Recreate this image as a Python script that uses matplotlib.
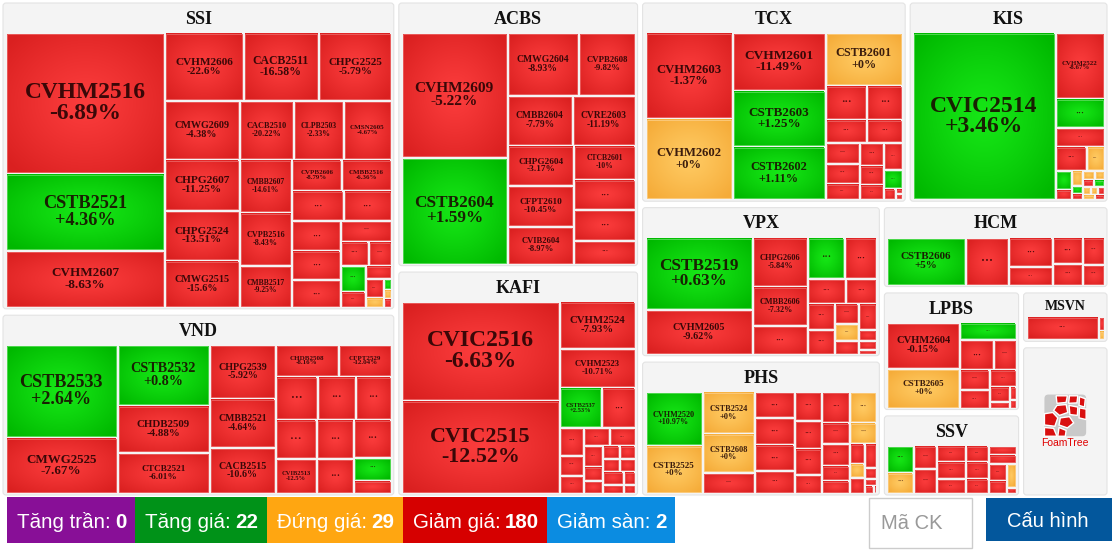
import numpy as np
import matplotlib
matplotlib.use("Agg")
import matplotlib.pyplot as plt
import matplotlib.colors as mcolors
from matplotlib.patches import Rectangle, FancyBboxPatch, Polygon

# ô chứng quyền: (mã, % thay đổi, giá trị GD) ; mã None = ô "..." chỉ biết xu hướng
SSI = [("CVHM2516", -6.89, 217), ("CSTB2521", 4.36, 119), ("CVHM2607", -8.63, 87),
       ("CVHM2606", -22.6, 52), ("CACB2511", -16.58, 50), ("CHPG2525", -5.79, 48),
       ("CMWG2609", -4.38, 42), ("CACB2510", -20.22, 31), ("CLPB2503", -2.33, 28),
       ("CMSN2605", -4.67, 27), ("CHPG2607", -11.25, 37), ("CHPG2524", -13.51, 36),
       ("CMWG2515", -15.6, 34), ("CMBB2607", -14.61, 27), ("CVPB2516", -8.43, 27),
       ("CMBB2517", -9.25, 21), ("CVPB2606", -8.79, 15), ("CMBB2516", -6.36, 15),
       (None, "giam", 15), (None, "giam", 14), (None, "giam", 14), (None, "giam", 14),
       (None, "giam", 13), (None, "giam", 10), (None, "giam", 6.5), (None, "giam", 5.5),
       (None, "tang", 6), (None, "giam", 3.8), (None, "giam", 3.4), (None, "giam", 3.2),
       (None, "dung", 1.8), (None, "tang", 0.8), (None, "dung", 0.7), (None, "giam", 0.7)]
SSI_LAYOUT = ("h", ("v", 0, 1, 2),
              ("v", ("h", 3, 4, 5), ("h", 6, 7, 8, 9),
               ("h", ("v", 10, 11, 12), ("v", 13, 14, 15),
                ("v", ("h", 16, 17), ("h", 18, 19),
                 ("h", ("v", 20, 21, 22),
                  ("v", 23, ("h", 24, 25),
                   ("h", ("v", 26, 27), ("v", 28, ("h", ("v", 29, 30), ("v", 31, 32, 33))))))))))

VND = [("CSTB2533", 2.64, 99), ("CMWG2525", -7.67, 60), ("CSTB2532", 0.8, 54),
       ("CHDB2509", -4.88, 42), ("CTCB2521", -6.01, 36), ("CHPG2539", -5.92, 34),
       ("CMBB2521", -4.64, 31), ("CACB2515", -10.6, 29), ("CHDB2508", -8.16, 19),
       ("CFPT2529", -12.04, 16), (None, "giam", 17.2), (None, "giam", 16),
       (None, "giam", 14.7), (None, "giam", 15.2), ("CVIB2513", -12.5, 13.6),
       (None, "giam", 14.1), (None, "giam", 12.6), (None, "giam", 13.7),
       (None, "tang", 8.1), (None, "giam", 4.8)]
VND_LAYOUT = ("h", ("v", 0, 1), ("v", 2, 3, 4), ("v", 5, 6, 7),
              ("v", ("h", 8, 9), ("h", 10, 11, 12),
               ("h", ("v", 13, 14), ("v", 15, 16), ("v", 17, 18, 19))))

ACBS = [("CVHM2609", -5.22, 127), ("CSTB2604", 1.59, 109), ("CMWG2604", -8.93, 43),
        ("CVPB2608", -9.82, 34), ("CMBB2604", -7.79, 31), ("CVRE2603", -11.19, 30),
        ("CHPG2604", -3.17, 26), ("CFPT2610", -10.45, 26), ("CVIB2604", -8.97, 24),
        ("CTCB2601", -10, 20), (None, "giam", 18), (None, "giam", 18), (None, "giam", 14)]
ACBS_LAYOUT = ("h", ("v", 0, 1),
               ("v", ("h", 2, 3), ("h", 4, 5), ("h", ("v", 6, 7, 8), ("v", 9, 10, 11, 12))))

KAFI = [("CVIC2516", -6.63, 150), ("CVIC2515", -12.52, 141), ("CVHM2524", -7.93, 34),
        ("CVHM2523", -10.71, 28), ("CSTB2537", 2.53, 16.4), (None, "giam", 12.9),
        (None, "giam", 6.4), (None, "giam", 4.6), (None, "giam", 4.1),
        (None, "giam", 4.3), (None, "giam", 4.4),
        (None, "giam", 3.8), (None, "giam", 2.7), (None, "giam", 2.3),
        (None, "giam", 2.1), (None, "giam", 2.0), (None, "giam", 2.0), (None, "giam", 1.8),
        (None, "giam", 2.7), (None, "giam", 1.5), (None, "giam", 1.7), (None, "giam", 1.0)]
KAFI_LAYOUT = ("h", ("v", 0, 1),
               ("v", 2, 3, ("h", 4, 5),
                ("h", ("v", 6, 7, 8),
                 ("v", ("h", 9, 10),
                  ("h", ("v", 11, 12, 13),
                   ("v", ("h", 14, 15), ("h", 16, 17), ("h", 18, 19), ("h", 20, 21)))))))

TCX = [("CVHM2603", -1.37, 72), ("CVHM2602", 0, 68), ("CVHM2601", -11.49, 51),
       ("CSTB2603", 1.25, 50), ("CSTB2602", 1.11, 47), ("CSTB2601", 0, 39),
       (None, "giam", 13.9), (None, "giam", 11.9), (None, "giam", 9.2), (None, "giam", 7.9),
       (None, "giam", 6.7), (None, "giam", 6.4), (None, "giam", 5.4),
       (None, "giam", 5.3), (None, "giam", 4.6), (None, "giam", 3.6),
       (None, "giam", 4.8), (None, "tang", 3.3), (None, "giam", 1.3),
       (None, "giam", 0.4), (None, "giam", 0.4)]
TCX_LAYOUT = ("h", ("v", 0, 1), ("v", 2, 3, 4),
              ("v", 5, ("h", 6, 7), ("h", 8, 9),
               ("h", ("v", 10, 11, 12), ("v", 13, 14, 15), ("v", 16, 17, ("h", 18, ("v", 19, 20))))))

KIS = [("CVIC2514", 3.46, 227), ("CVHM2522", -8.67, 31), (None, "tang", 13.7),
       (None, "giam", 8.8), (None, "giam", 7.1), (None, "dung", 4.2),
       (None, "tang", 2.9), (None, "giam", 1.6),
       (None, "dung", 1.6), (None, "tang", 0.8), (None, "giam", 0.7),
       (None, "dung", 1.0), (None, "dung", 0.9), (None, "giam", 0.8), (None, "tang", 0.8),
       (None, "dung", 0.6), (None, "dung", 0.5), (None, "giam", 0.5),
       (None, "dung", 0.6), (None, "giam", 0.5)]
KIS_LAYOUT = ("h", 0, ("v", 1, 2, 3, ("h", 4, 5),
                       ("h", ("v", 6, 7), ("v", 8, 9, 10),
                        ("v", ("h", 11, 12), ("h", 13, 14), ("h", 15, 16, 17), ("h", 18, 19)))))

VPX = [("CSTB2519", 0.63, 74), ("CVHM2605", -9.62, 45), ("CHPG2606", -5.84, 26),
       ("CMBB2606", -7.32, 20.5), (None, "giam", 15),
       (None, "tang", 14.4), (None, "giam", 12.9), (None, "giam", 8.7), (None, "giam", 7.4),
       (None, "giam", 6.8), (None, "giam", 6.3),
       (None, "giam", 4.6), (None, "dung", 3.7), (None, "giam", 3.1),
       (None, "giam", 4.6), (None, "giam", 1.9), (None, "giam", 1.5), (None, "giam", 0.8)]
VPX_LAYOUT = ("h", ("v", 0, 1), ("v", 2, 3, 4),
              ("v", ("h", 5, 6), ("h", 7, 8),
               ("h", ("v", 9, 10), ("v", 11, 12, 13), ("v", 14, 15, 16, 17))))

PHS = [("CVHM2520", 10.97, 29), ("CSTB2525", 0, 26), ("CSTB2524", 0, 21),
       ("CSTB2608", 0, 19.4), (None, "giam", 10.2),
       (None, "giam", 9.5), (None, "giam", 9.9), (None, "giam", 9.9), (None, "giam", 8.4),
       (None, "giam", 7.6), (None, "giam", 7.3), (None, "giam", 7.0), (None, "giam", 4.9),
       (None, "giam", 8.1), (None, "dung", 7.8), (None, "giam", 5.6), (None, "dung", 5.4),
       (None, "giam", 5.7), (None, "giam", 3.9), (None, "giam", 3.4),
       (None, "giam", 2.8), (None, "dung", 2.0), (None, "giam", 2.2),
       (None, "giam", 2.9), (None, "giam", 1.3), (None, "giam", 0.8),
       (None, "giam", 0.7), (None, "giam", 0.3)]
PHS_LAYOUT = ("h", ("v", 0, 1), ("v", 2, 3, 4), ("v", 5, 6, 7, 8), ("v", 9, 10, 11, 12),
              ("v", ("h", 13, 14), ("h", 15, 16),
               ("h", ("v", 17, 18, 19), ("v", 20, 21, 22), ("v", 23, 24, 25, ("h", 26, 27)))))

HCM = [("CSTB2606", 5, 34.3), (None, "giam", 18.9), (None, "giam", 11.6), (None, "giam", 7.3),
       (None, "giam", 7.2), (None, "giam", 6.0), (None, "giam", 5.5), (None, "giam", 4.2)]
HCM_LAYOUT = ("h", 0, 1, ("v", 2, 3), ("v", 4, 5), ("v", 6, 7))

LPBS = [("CVHM2604", -0.15, 31), ("CSTB2605", 0, 27), (None, "tang", 9),
        (None, "giam", 9.2), (None, "giam", 6.4), (None, "giam", 5.6), (None, "giam", 5.0),
        (None, "giam", 4.2), (None, "giam", 2.8), (None, "giam", 1.2),
        (None, "giam", 0.8), (None, "giam", 0.5)]
LPBS_LAYOUT = ("h", ("v", 0, 1),
               ("v", 2, ("h", 3, 4), ("h", ("v", 5, 6), ("v", 7, ("h", ("v", 8, 9), ("v", 10, 11))))))

MSVN = [(None, "giam", 14), (None, "giam", 0.7), (None, "dung", 0.5)]
MSVN_LAYOUT = ("h", 0, ("v", 1, 2))

SSV = [(None, "tang", 6.5), (None, "dung", 5.2), (None, "giam", 4.8), (None, "giam", 5.1),
       (None, "giam", 4.2), (None, "giam", 4.5), (None, "giam", 3.9),
       (None, "giam", 3.3), (None, "giam", 3.5), (None, "giam", 3.1),
       (None, "giam", 2.2), (None, "giam", 2.4), (None, "giam", 2.7), (None, "giam", 2.2),
       (None, "dung", 2.0), (None, "giam", 0.5)]
SSV_LAYOUT = ("h", ("v", 0, 1), ("v", 2, 3), ("v", 4, 5, 6), ("v", 7, 8, 9),
              ("v", 10, 11, ("h", ("v", 12, 13), ("v", 14, 15))))

LEGEND_LABELS = ["Tăng trần", "Tăng giá", "Đứng giá", "Giảm giá", "Giảm sàn"]
LEGEND_COUNTS = [0, 22, 29, 180, 2]
LEGEND_COLORS = ["#880f97", "#009218", "#ffa611", "#d60000", "#0b8ce1"]

GROUPS = {"SSI": (SSI, SSI_LAYOUT), "VND": (VND, VND_LAYOUT), "ACBS": (ACBS, ACBS_LAYOUT),
          "KAFI": (KAFI, KAFI_LAYOUT), "TCX": (TCX, TCX_LAYOUT), "KIS": (KIS, KIS_LAYOUT),
          "VPX": (VPX, VPX_LAYOUT), "PHS": (PHS, PHS_LAYOUT), "HCM": (HCM, HCM_LAYOUT),
          "LPBS": (LPBS, LPBS_LAYOUT), "MSVN": (MSVN, MSVN_LAYOUT), "SSV": (SSV, SSV_LAYOUT)}

# bố cục nhóm (cây chia ngang/dọc), ô logo FoamTree không có dữ liệu
TOP = ("h", ("v", "SSI", "VND"), ("v", "ACBS", "KAFI"),
       ("v", ("h", "TCX", "KIS"),
        ("h", ("v", "VPX", "PHS"),
         ("v", "HCM", ("h", ("v", "LPBS", "SSV"), ("v", "MSVN", "LOGO"))))))
LOGO_W = 121

SERIF = "Liberation Serif"
SANS = "Liberation Sans"
MX, MY, PAD, HEAD, BOT, GAP = 2.5, 3.2, 2.5, 29.5, 1.5, 1.5
HEAD_SMALL = 23.5
ROOT = (0.5, -0.2, 1109.5, 498.2)

COLORS = {"tang": ("#16e616", "#00b800"), "dung": ("#ffca62", "#f5ab38"),
          "giam": ("#fb3c3c", "#da2020")}
EDGE = {"tang": "#4fd84f", "dung": "#fbc878", "giam": "#ea5a5a"}

yy, xx = np.mgrid[-1:1:40j, -1:1:40j]
rad = np.clip(np.hypot(xx, yy) / 1.35, 0, 1) ** 1.2
IMG = {}
for k, (a, b) in COLORS.items():
    ca, cb = np.array(mcolors.to_rgb(a)), np.array(mcolors.to_rgb(b))
    IMG[k] = ca + (cb - ca) * rad[..., None]


def trend(v):
    if isinstance(v, str):
        return v
    return "tang" if v > 0 else ("dung" if v == 0 else "giam")


def wsum(node, cells):
    if isinstance(node, int):
        return cells[node][2]
    return sum(wsum(c, cells) for c in node[1:])


def slice_cells(node, cells, x0, y0, x1, y1, out):
    if isinstance(node, int):
        out.append((node, x0, y0, x1, y1))
        return
    kids = node[1:]
    ws = [wsum(c, cells) for c in kids]
    tot = sum(ws)
    pos = x0 if node[0] == "h" else y0
    for c, w in zip(kids, ws):
        if node[0] == "h":
            step = (x1 - x0) * w / tot
            slice_cells(c, cells, pos, y0, pos + step, y1, out)
        else:
            step = (y1 - y0) * w / tot
            slice_cells(c, cells, x0, pos, x1, pos + step, out)
        pos += step


GW = {}
def top_w(n):
    if isinstance(n, str):
        if n not in GW:
            GW[n] = LOGO_W if n == "LOGO" else sum(c[2] for c in GROUPS[n][0])
        return GW[n]
    return sum(top_w(c) for c in n[1:])


def prep(n):
    if isinstance(n, str):
        return n
    ws = [top_w(c) for c in n[1:]]
    return [n[0], [prep(c) for c in n[1:]], [w / sum(ws) for w in ws]]


def place(n, x0, y0, x1, y1, boxes):
    if isinstance(n, str):
        boxes[n] = (x0, y0, x1, y1)
        return
    kind, kids, sh = n
    pos = x0 if kind == "h" else y0
    span = (x1 - x0) if kind == "h" else (y1 - y0)
    for c, s in zip(kids, sh):
        if kind == "h":
            place(c, pos, y0, pos + s * span, y1, boxes)
        else:
            place(c, x0, pos, x1, pos + s * span, boxes)
        pos += s * span


def inner(name, box):
    x0, y0, x1, y1 = box
    if name == "LOGO":
        return x0 + MX, y0 + MY, x1 - MX, y1 - MY
    hd = HEAD_SMALL if name == "MSVN" else HEAD
    return x0 + MX + PAD, y0 + MY + hd, x1 - MX - PAD, y1 - MY - BOT


def relax(n, boxes):
    # chỉnh tỉ lệ chia để mật độ (diện tích / giá trị) đều giữa các nhóm
    if isinstance(n, str):
        a, b, c, d = inner(n, boxes[n])
        g = 0 if n == "LOGO" else 2 * GAP
        return max(c - a - g, 1.0) * max(d - b - g, 1.0), top_w(n)
    res = [relax(c, boxes) for c in n[1]]
    A = sum(r[0] for r in res)
    W = sum(r[1] for r in res)
    sh = [s * ((A / W) / (r[0] / r[1])) ** 0.5 for s, r in zip(n[2], res)]
    n[2] = [s / sum(sh) for s in sh]
    return A, W


tree = prep(TOP)
for _ in range(400):
    boxes = {}
    place(tree, *ROOT, boxes)
    relax(tree, boxes)
boxes = {}
place(tree, *ROOT, boxes)

fig = plt.figure(figsize=(11.12, 5.5), dpi=100)
fig.patch.set_facecolor("white")
ax = fig.add_axes([0, 0, 1, 1])
ax.set_xlim(0, 1112)
ax.set_ylim(550, 0)
ax.axis("off")
renderer = fig.canvas.get_renderer()


def draw_cell(cell, x0, y0, x1, y1):
    ma, pct, _ = cell
    x0, y0, x1, y1 = x0 + GAP, y0 + GAP, x1 - GAP, y1 - GAP
    w, h = x1 - x0, y1 - y0
    if w <= 0.6 or h <= 0.6:
        return
    key = trend(pct)
    ax.imshow(IMG[key], extent=(x0, x1, y1, y0), aspect="auto",
              interpolation="bilinear", zorder=2)
    ax.add_patch(Rectangle((x0, y0), w, h, fill=False, ec=EDGE[key], lw=0.7, zorder=3))
    cx, cy = (x0 + x1) / 2, (y0 + y1) / 2
    if ma is None:
        s = min(0.3 * w, 0.34 * h, 12)
        if s >= 4:
            ax.text(cx, cy, "···", ha="center", va="center", fontsize=s * 0.72,
                    family=SERIF, weight="bold", color="#2a0000", alpha=0.8, zorder=4)
        return
    t = ax.text(cx, cy, f"{ma}\n{pct:+g}%", ha="center", va="center",
                multialignment="center", fontsize=10, family=SERIF, weight="bold",
                linespacing=0.95, color="#1a0000", alpha=0.85, zorder=4)
    bb = t.get_window_extent(renderer)
    k = min(0.77 * w / bb.width, 0.45 * h / bb.height)
    t.set_fontsize(min(10 * k, 19))


def draw_logo(x0, y0, x1, y1):
    side = 0.5 * (x1 - x0)
    lx0 = (x0 + x1) / 2 - side / 2
    ly0 = (y0 + y1) / 2 - side / 2 - 6
    ax.add_patch(FancyBboxPatch((lx0, ly0), side, side, boxstyle="round,pad=0,rounding_size=4",
                                fc="#c9c9c9", ec="none", zorder=2))
    polys = [[(0.28, 0.03), (0.55, 0.03), (0.52, 0.19), (0.3, 0.21)],
             [(0.6, 0.03), (0.8, 0.03), (0.78, 0.2), (0.58, 0.21)],
             [(0.84, 0.05), (0.98, 0.1), (0.96, 0.3), (0.83, 0.26)],
             [(0.3, 0.26), (0.52, 0.24), (0.56, 0.43), (0.36, 0.5), (0.22, 0.38)],
             [(0.59, 0.26), (0.8, 0.3), (0.79, 0.5), (0.61, 0.48)],
             [(0.84, 0.32), (1.0, 0.35), (1.0, 0.6), (0.83, 0.56)],
             [(0.0, 0.46), (0.2, 0.43), (0.32, 0.56), (0.25, 0.76), (0.0, 0.73)],
             [(0.38, 0.56), (0.6, 0.53), (0.7, 0.68), (0.55, 0.8), (0.35, 0.73)],
             [(0.0, 0.79), (0.22, 0.81), (0.3, 1.0), (0.0, 1.0)],
             [(0.35, 0.79), (0.52, 0.86), (0.5, 1.0), (0.32, 1.0)]]
    for p in polys:
        ax.add_patch(Polygon([(lx0 + u * side, ly0 + v * side) for u, v in p],
                             closed=True, fc="#d90f0f", ec="white", lw=1.0, zorder=3))
    ax.text((x0 + x1) / 2, ly0 + side + 7, "FoamTree", ha="center", va="center",
            fontsize=7.5, family=SANS, color="#e00000", zorder=3)


for name, box in boxes.items():
    x0, y0, x1, y1 = box
    fx0, fy0, fx1, fy1 = x0 + MX, y0 + MY, x1 - MX, y1 - MY
    ax.add_patch(FancyBboxPatch((fx0, fy0), fx1 - fx0, fy1 - fy0,
                                boxstyle="round,pad=0,rounding_size=3",
                                fc="#f4f4f4", ec="#e3e3e3", lw=0.8, zorder=1))
    if name == "LOGO":
        draw_logo(fx0, fy0, fx1, fy1)
        continue
    hd = HEAD_SMALL if name == "MSVN" else HEAD
    ax.text((fx0 + fx1) / 2, fy0 + hd / 2 + 1.5, name, ha="center", va="center",
            fontsize=10 if name == "MSVN" else 13, family=SERIF, weight="bold",
            color="#111111", zorder=2)
    cells, lay = GROUPS[name]
    out = []
    cx0, cy0, cx1, cy1 = inner(name, box)
    slice_cells(lay, cells, cx0, cy0, cx1, cy1, out)
    for i, a, b, c, d in out:
        draw_cell(cells[i], a, b, c, d)

# thanh chú thích phía dưới
x = 7
by0, by1, base = 497, 543, 528
for lab, n, col in zip(LEGEND_LABELS, LEGEND_COUNTS, LEGEND_COLORS):
    t1 = ax.text(x + 10, base, lab + ":", family=SANS, fontsize=14.8, color="white",
                 ha="left", va="baseline", zorder=6)
    w1 = t1.get_window_extent(renderer).width
    t2 = ax.text(x + 10 + w1 + 5, base, str(n), family=SANS, fontsize=14.8, weight="bold",
                 color="white", ha="left", va="baseline", zorder=6)
    w2 = t2.get_window_extent(renderer).width
    wbox = 10 + w1 + 5 + w2 + 8
    ax.add_patch(Rectangle((x, by0), wbox, by1 - by0, fc=col, ec="none", zorder=5))
    x += wbox

ax.add_patch(Rectangle((869, 498), 103, 50, fc="white", ec="#cccccc", lw=1, zorder=5))
ax.text(881, 529, "Mã CK", family=SANS, fontsize=14.5, color="#999999",
        ha="left", va="baseline", zorder=6)
ax.add_patch(Rectangle((986, 498), 126, 43, fc="#03579c", ec="none", zorder=5))
ax.text(1048, 527, "Cấu hình", family=SANS, fontsize=14.5, color="white",
        ha="center", va="baseline", zorder=6)

ax.set_xlim(0, 1112)
ax.set_ylim(550, 0)
fig.savefig("out.png", dpi=100, facecolor="white")
